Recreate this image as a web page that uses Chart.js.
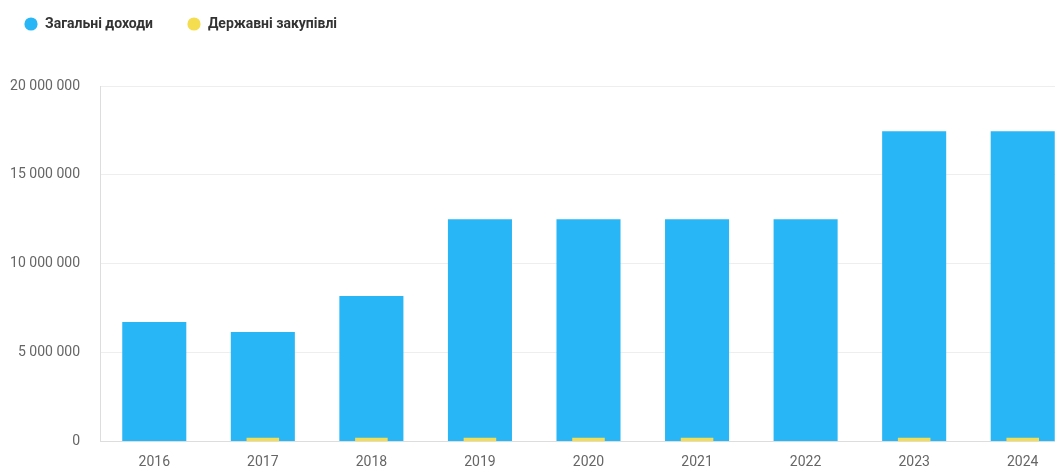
<!DOCTYPE html>
<html>
<head>
<meta charset="utf-8">
<script src="https://cdn.jsdelivr.net/npm/chart.js@4"></script>
<style>
  html, body { margin: 0; padding: 0; background: #fff; overflow: hidden; }
  #wrap { position: relative; width: 1077px; height: 470px; }
</style>
</head>
<body>
<div id="wrap"><canvas id="income-chart"></canvas></div>
<script>
    // Доходи та державні закупівлі по роках
    const years = ["2016", "2017", "2018", "2019", "2020", "2021", "2022", "2023", "2024"];
    const totalIncome = [6720000, 6160000, 8190000, 12500000, 12500000, 12500000, 12500000, 17460000, 17460000];
    const procurement = [0, 220000, 220000, 220000, 220000, 220000, 0, 220000, 220000];
    const yTicks = [0, 5000000, 10000000, 15000000, 20000000];

    const blue = "#29b6f6";
    const yellow = "#f4dd4f";

    // 20000000 -> "20 000 000"
    function spaced(v) {
        return String(v).replace(/\B(?=(\d{3})+(?!\d))/g, " ");
    }

    // round legend marker
    function dot(color) {
        const c = document.createElement("canvas");
        c.width = 14;
        c.height = 14;
        const ctx = c.getContext("2d");
        ctx.fillStyle = color;
        ctx.beginPath();
        ctx.arc(7, 7, 6.6, 0, Math.PI * 2);
        ctx.fill();
        return c;
    }

    // extra gap under the legend
    const legendGap = {
        id: "legendGap",
        beforeInit(chart) {
            const fit = chart.legend.fit;
            chart.legend.fit = function () {
                fit.bind(chart.legend)();
                this.height += 45;
            };
        }
    };

    Chart.defaults.font.family = "Roboto, 'Noto Sans', sans-serif";

    new Chart("income-chart", {
        type: "bar",
        plugins: [legendGap],
        data: {
            labels: years,
            datasets: [
                {
                    label: "Загальні доходи",
                    data: totalIncome,
                    backgroundColor: blue,
                    pointStyle: dot(blue),
                    borderWidth: 0,
                    grouped: false,
                    categoryPercentage: 1,
                    barPercentage: 0.59,
                    order: 1
                },
                {
                    label: "Державні закупівлі",
                    data: procurement,
                    backgroundColor: yellow,
                    pointStyle: dot(yellow),
                    borderWidth: 0,
                    grouped: false,
                    categoryPercentage: 1,
                    barPercentage: 0.3,
                    order: 0
                }
            ]
        },
        options: {
            responsive: true,
            maintainAspectRatio: false,
            animation: false,
            layout: { padding: { left: -10, right: 0, top: -17, bottom: -23 } },
            plugins: {
                legend: {
                    display: true,
                    position: "top",
                    align: "start",
                    labels: {
                        sort: (a, b) => a.datasetIndex - b.datasetIndex,
                        usePointStyle: true,
                        boxWidth: 14,
                        boxHeight: 14,
                        padding: 34,
                        color: "#333",
                        font: { size: 14, weight: "bold" }
                    }
                },
                tooltip: { enabled: false }
            },
            scales: {
                x: {
                    grid: { display: false, drawTicks: false },
                    border: { display: true, color: "#dddddd" },
                    ticks: { color: "#666", font: { size: 14 }, padding: 12 }
                },
                y: {
                    min: 0,
                    max: 20000000,
                    afterBuildTicks: (axis) => { axis.ticks = yTicks.map(v => ({ value: v })); },
                    afterFit: (axis) => { axis.width = 110; },
                    grid: { color: "#eeeeee", drawTicks: false },
                    border: { display: true, color: "#dddddd" },
                    ticks: {
                        color: "#666",
                        font: { size: 14 },
                        padding: 20,
                        callback: (v) => spaced(v)
                    }
                }
            }
        }
    });
</script>
</body>
</html>
